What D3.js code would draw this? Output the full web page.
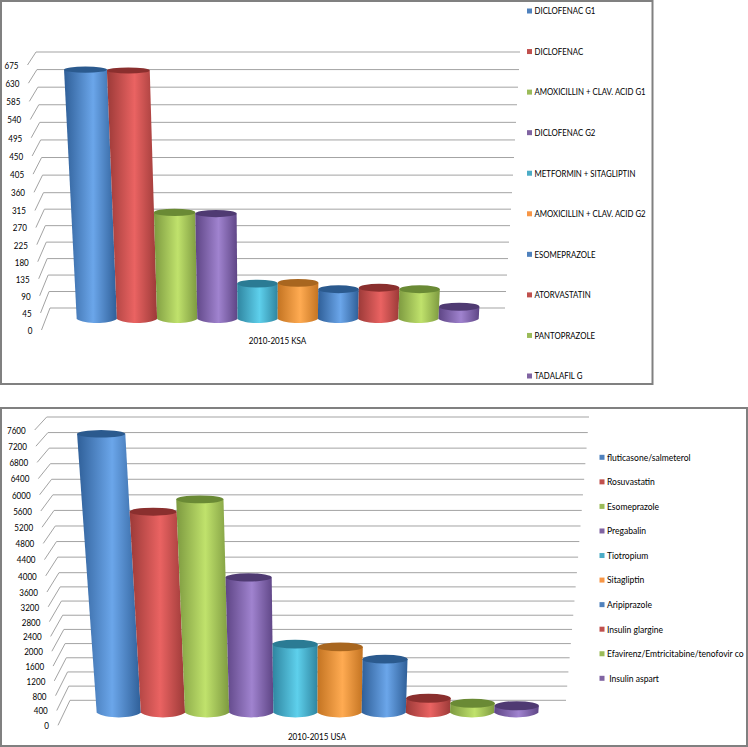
<!DOCTYPE html>
<html>
<head>
<meta charset="utf-8">
<style>
    html, body { margin: 0; padding: 0; background: #fff; }
    svg { display: block; }
    text { font-family: Lato, "Open Sans", sans-serif; font-size: 9.6px; fill: #000; }
</style>
</head>
<body>
<svg width="748" height="747"></svg>

<script src="https://d3js.org/d3.v7.min.js"></script>
<script>
    var ksaNames = ["DICLOFENAC G1", "DICLOFENAC", "AMOXICILLIN + CLAV. ACID G1", "DICLOFENAC G2",
        "METFORMIN + SITAGLIPTIN", "AMOXICILLIN + CLAV. ACID G2", "ESOMEPRAZOLE", "ATORVASTATIN",
        "PANTOPRAZOLE", "TADALAFIL G"];
    var ksaValues = [647, 645, 286, 283, 95, 97, 80, 84, 80, 33];
    var ksaTicks = [0, 45, 90, 135, 180, 225, 270, 315, 360, 405, 450, 495, 540, 585, 630, 675];

    var usaNames = ["fluticasone/salmeterol", "Rosuvastatin", "Esomeprazole", "Pregabalin",
        "Tiotropium", "Sitagliptin", "Aripiprazole", "Insulin glargine",
        "Efavirenz/Emtricitabine/tenofovir co", " Insulin aspart"];
    var usaValues = [7340, 5380, 5690, 3724, 1893, 1817, 1480, 400, 265, 195];
    var usaTicks = [0, 400, 800, 1200, 1600, 2000, 2400, 2800, 3200, 3600, 4000, 4400, 4800, 5200,
        5600, 6000, 6400, 6800, 7200, 7600];

    // office colours: edge of the cylinder, bright part, top cap
    var palette = [
        ["#2f5f98", "#6ba6ea", "#2b5a8e"],
        ["#9c3a38", "#ea6362", "#8a2f2e"],
        ["#7d9a40", "#c0e26c", "#6a8a35"],
        ["#5e4585", "#a083cf", "#4f3a72"],
        ["#2f85a0", "#5ed0ec", "#2b7b94"],
        ["#c47422", "#ffab52", "#a8661f"]
    ];
    var legendColors = ["#4f81bd", "#c0504d", "#9bbb59", "#8064a2", "#4bacc6", "#f79646"];

    var svg = d3.select("svg");
    var defs = svg.append("defs");

    palette.forEach(function (c, i) {
        var grad = defs.append("linearGradient").attr("id", "cyl" + i);
        grad.append("stop").attr("offset", "0%").attr("stop-color", c[0]);
        grad.append("stop").attr("offset", "55%").attr("stop-color", c[1]);
        grad.append("stop").attr("offset", "100%").attr("stop-color", c[0]);
    });

    // Lato runs wider than the font of the picture, squeeze it sideways
    function place(px, py, squeeze) {
        return "translate(" + px + "," + py + ") scale(" + (squeeze || 0.84) + ",1)";
    }

    function drawChart(o) {
        var max = o.ticks[o.ticks.length - 1];
        var mid = o.ticks[o.midIndex];

        svg.append("rect")
            .attr("x", o.frame[0]).attr("y", o.frame[1])
            .attr("width", o.frame[2] - o.frame[0]).attr("height", o.frame[3] - o.frame[1])
            .attr("fill", "none").attr("stroke", "#808080").attr("stroke-width", 2);

        // the wall is in perspective so the y scale has a bend in it
        var yBack = d3.scaleLinear().domain([0, mid, max]).range(o.wallY);
        var depth = d3.scaleLinear().domain([0, max]).range(o.depthY);
        var xLeft = d3.scaleLinear().domain([0, max]).range(o.wallLeft);
        var xRight = d3.scaleLinear().domain([0, max]).range(o.wallRight);
        var yBar = function (v) { return yBack(v) + depth(v) / 2; };
        var x = d3.scaleBand().domain(o.names).range(o.barRange);
        var ry = d3.scaleLinear().domain([0, max]).range(o.capRy);

        var g = svg.append("g");

        g.selectAll("line.grid").data(o.ticks).enter().append("line")
            .attr("class", "grid")
            .attr("x1", xLeft).attr("x2", xRight)
            .attr("y1", yBack).attr("y2", yBack)
            .attr("stroke", "#a3a3a3");

        g.selectAll("line.side").data(o.ticks).enter().append("line")
            .attr("class", "side")
            .attr("x1", xLeft)
            .attr("y1", yBack)
            .attr("x2", function (d) { return xLeft(d) - o.depthX; })
            .attr("y2", function (d) { return yBack(d) + depth(d); })
            .attr("stroke", "#a3a3a3");

        g.selectAll("text.tick").data(o.ticks).enter().append("text")
            .attr("class", "tick")
            .attr("transform", function (d) {
                return place(xLeft(d) - o.depthX - 9, yBack(d) + depth(d) + 0.5);
            })
            .attr("dy", "0.35em")
            .attr("text-anchor", "end")
            .text(function (d) { return d; });

        // cylinders lean away from the vanishing point the taller they are
        function lean(px, h) {
            return px + (px - o.vanishX) * o.lean * h;
        }

        var bars = g.selectAll("g.bar").data(o.values).enter().append("g")
            .attr("class", "bar");

        bars.append("path")
            .attr("fill", function (d, i) { return "url(#cyl" + (i % 6) + ")"; })
            .attr("d", function (d, i) {
                var x0 = x(o.names[i]), x1 = x0 + x.bandwidth();
                var y0 = yBar(0), yTop = yBar(d), h = y0 - yTop;
                var tl = lean(x0, h), tr = lean(x1, h);
                var p = d3.path();
                p.moveTo(tl, yTop);
                p.lineTo(x0, y0);
                p.bezierCurveTo(x0 + 8, y0 + ry(0) * 1.33, x1 - 8, y0 + ry(0) * 1.33, x1, y0);
                p.lineTo(tr, yTop);
                p.closePath();
                return p.toString();
            });

        bars.append("ellipse")
            .attr("fill", function (d, i) { return palette[i % 6][2]; })
            .attr("cx", function (d, i) {
                var x0 = x(o.names[i]), h = yBar(0) - yBar(d);
                return (lean(x0, h) + lean(x0 + x.bandwidth(), h)) / 2;
            })
            .attr("cy", yBar)
            .attr("rx", function (d, i) {
                var x0 = x(o.names[i]), h = yBar(0) - yBar(d);
                return (lean(x0 + x.bandwidth(), h) - lean(x0, h)) / 2;
            })
            .attr("ry", ry);

        svg.append("text")
            .attr("transform", place(o.titlePos[0], o.titlePos[1]))
            .attr("dy", "0.35em")
            .attr("text-anchor", "middle")
            .text(o.title);

        var yLegend = d3.scalePoint().domain(o.names).range(o.legendY);

        var legend = svg.append("g").selectAll("g").data(o.names).enter().append("g")
            .attr("transform", function (d) { return "translate(" + o.legendX + "," + yLegend(d) + ")"; });

        legend.append("rect")
            .attr("x", 0).attr("y", -2.5)
            .attr("width", 5).attr("height", 5)
            .attr("fill", function (d, i) { return legendColors[i % 6]; });

        legend.append("text")
            .attr("transform", place(7.5, 0, o.legendSqueeze))
            .attr("dy", "0.35em")
            .attr("xml:space", "preserve")
            .text(function (d) { return d; });
    }

    drawChart({
        names: ksaNames, values: ksaValues, ticks: ksaTicks, title: "2010-2015 KSA",
        frame: [1, 1, 652.5, 384],
        midIndex: 7, wallY: [308, 192.7, 52], depthY: [22, 13], depthX: 8.5,
        wallLeft: [50, 36], wallRight: [505, 520],
        barRange: [76.7, 478.7], vanishX: 269, lean: 0.000264, capRy: [4.1, 3],
        titlePos: [277.5, 341],
        legendX: 527, legendY: [11, 376], legendSqueeze: 0.815
    });

    drawChart({
        names: usaNames, values: usaValues, ticks: usaTicks, title: "2010-2015 USA",
        frame: [1, 408, 747, 746],
        midIndex: 9, wallY: [700.3, 572.7, 417], depthY: [25, 13], depthX: 12,
        wallLeft: [70, 46.7], wallRight: [566, 589],
        barRange: [96.7, 538.3], vanishX: 310, lean: 0.00033, capRy: [4.6, 3.7],
        titlePos: [317, 737],
        legendX: 599.5, legendY: [457.3, 678.3], legendSqueeze: 0.89
    });
</script>
</body>
</html>
